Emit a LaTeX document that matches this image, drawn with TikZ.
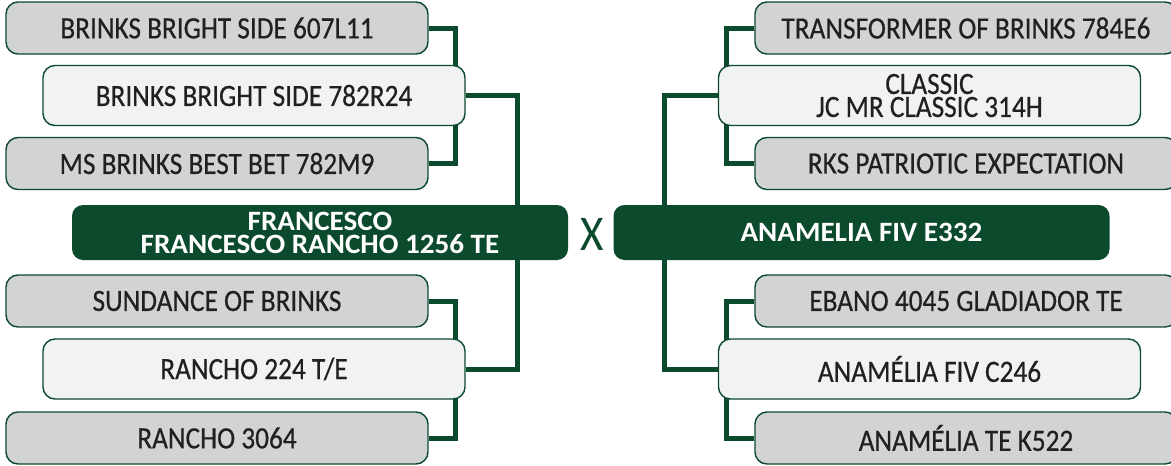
\documentclass[tikz,border=0pt]{standalone}
\usepackage{fontspec}
\setmainfont{Carlito}[FakeStretch=0.88,FakeBold=0.5]
\newfontfamily\headfont{Carlito}[FakeStretch=1.04]
\newfontfamily\crossfont{Carlito}[FakeStretch=0.9]
\usetikzlibrary{positioning}
\definecolor{pinegreen}{HTML}{0B4A2D}
\definecolor{ashgray}{HTML}{D1D3D4}
\definecolor{palegray}{HTML}{F1F2F3}
\definecolor{inkblack}{HTML}{231F20}
\pgfdeclarelayer{bg}
\pgfsetlayers{bg,main}
\tikzset{
  grandbox/.style={rectangle,rounded corners=12pt,draw=pinegreen,line width=1.4pt,fill=ashgray,text=inkblack,
    minimum width=422pt,minimum height=52pt,inner sep=0pt,align=center,font=\fontsize{31}{23}\selectfont},
  parentbox/.style={grandbox,fill=palegray,minimum height=60pt},
  mainbox/.style={rectangle,rounded corners=11pt,fill=pinegreen,text=white,minimum width=496pt,
    minimum height=55pt,inner sep=0pt,align=center,font=\headfont\bfseries\fontsize{28}{23}\selectfont},
  link/.style={draw=pinegreen,line width=5pt}
}
\begin{document}
\begin{tikzpicture}[x=1pt,y=-1pt]
\useasboundingbox (0,0) rectangle (1171,466);
% sire side
\node[grandbox] (ss) at (217,28) {BRINKS BRIGHT SIDE 607L11};
\node[parentbox] (s) at (254,95.5) {BRINKS BRIGHT SIDE 782R24};
\node[grandbox] (sd) at (217,163.5) {MS BRINKS BEST BET 782M9};
\node[mainbox] (sire) at (320,232.5) {FRANCESCO\\FRANCESCO RANCHO 1256 TE};
\node[grandbox] (ds) at (217,301) {SUNDANCE OF BRINKS};
\node[parentbox] (d) at (254,369) {RANCHO 224 T/E};
\node[grandbox] (dd) at (217,438) {RANCHO 3064};
% dam side
\node[grandbox] (ss2) at (966,28) {TRANSFORMER OF BRINKS 784E6};
\node[parentbox] (s2) at (929.5,95.5) {CLASSIC\\JC MR CLASSIC 314H};
\node[grandbox] (sd2) at (966,163.5) {RKS PATRIOTIC EXPECTATION};
\node[mainbox] (dam) at (861.5,232.5) {ANAMELIA FIV E332};
\node[grandbox] (ds2) at (966,301) {EBANO 4045 GLADIADOR TE};
\node[parentbox] (d2) at (929.5,369) {ANAMÉLIA FIV C246};
\node[grandbox] (dd2) at (966,438) {ANAMÉLIA TE K522};
\node[text=pinegreen,font=\crossfont\fontsize{50}{50}\selectfont,inner sep=0pt] (cross) at (592.5,234) {X};
\begin{pgfonlayer}{bg}
\draw[link] (ss.east) -- ++(27,0) |- (sd.east);
\draw[link] (ds.east) -- ++(27,0) |- (dd.east);
\draw[link] (s.east) -- ++(52,0) |- (d.east);
\draw[link] (ss2.west) -- ++(-28,0) |- (sd2.west);
\draw[link] (ds2.west) -- ++(-28,0) |- (dd2.west);
\draw[link] (s2.west) -- ++(-53,0) |- (d2.west);
\end{pgfonlayer}
\end{tikzpicture}
\end{document}
